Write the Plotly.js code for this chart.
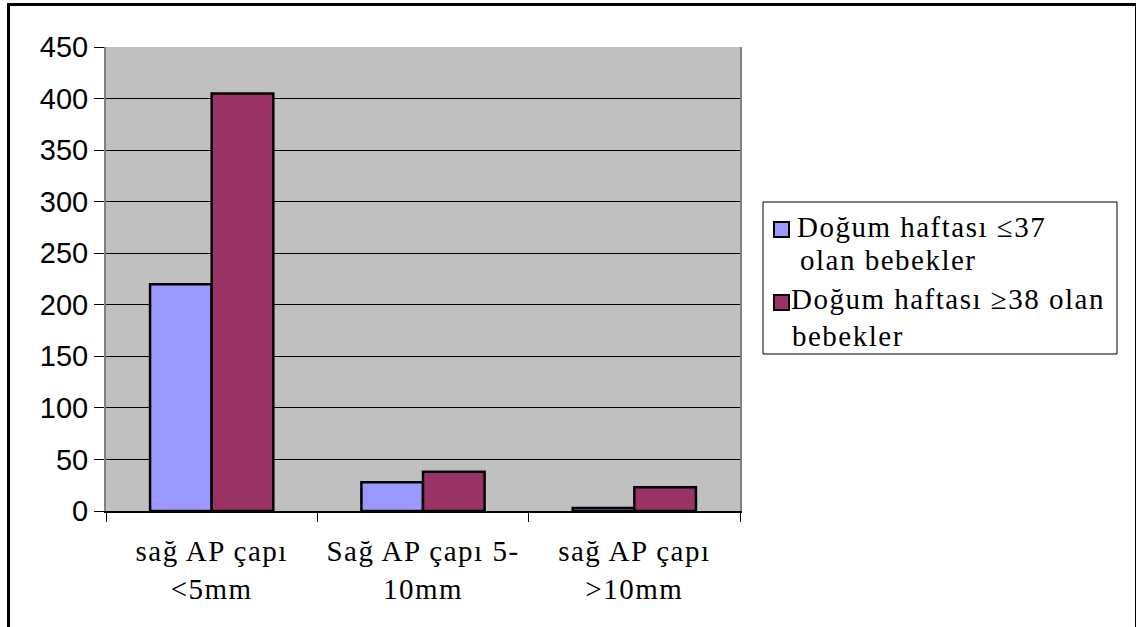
<!DOCTYPE html>
<html>
<head>
<meta charset="utf-8">
<script src="https://cdn.plot.ly/plotly-3.0.1.min.js"></script>
<style>
  html, body { margin: 0; padding: 0; background: #fff; }
  #wrap { position: relative; width: 1136px; height: 627px; overflow: hidden; }
  #chart { width: 1136px; height: 627px; }
  #chart .xtick text, #chart .annotation-text { letter-spacing: 1.5px; }
  #frame { position: absolute; left: 7px; top: 3px; width: 1125px; height: 700px;
           border-left: 3px solid #000; border-top: 3px solid #000; border-right: 2px solid #000;
           pointer-events: none; }
</style>
</head>
<body>
<div id="wrap">
  <div id="chart"></div>
  <div id="frame"></div>
</div>
<script>
// ---- data ----
var categories = ["sağ AP çapı <5mm", "Sağ AP çapı 5-10mm", "sağ AP çapı >10mm"];
var tickLabels = ["sağ AP çapı\n<5mm", "Sağ AP çapı 5-\n10mm", "sağ AP çapı\n>10mm"];
var seriesNames = ["Doğum haftası ≤37\nolan bebekler", "Doğum haftası ≥38 olan\nbebekler"];
var seriesColors = ["#9999FF", "#993366"];
var preterm = [220, 28, 3];
var term = [405, 38, 23];
var yTicks = [0, 50, 100, 150, 200, 250, 300, 350, 400, 450];

var SERIF = "'Times New Roman', 'Liberation Serif', serif";
var SANS = "Arial, 'Liberation Sans', sans-serif";

function fmt(s) {
  return s.replace(/&/g, "&amp;").replace(/</g, "&lt;").replace(/>/g, "&gt;").replace(/\n/g, "<br>");
}

// plot-area geometry (px) for placing the hand-built legend
var W = 1136, H = 627, ML = 106, MR = 396, MT = 47, MB = 116;
var PW = W - ML - MR, PH = H - MT - MB;
function px(x) { return (x - ML) / PW; }
function py(y) { return (H - MB - y) / PH; }

var traces = [
  { type: "bar", x: categories, y: preterm, name: seriesNames[0].replace("\n", " "), showlegend: false,
    marker: { color: seriesColors[0], line: { color: "#000", width: 2.5 } } },
  { type: "bar", x: categories, y: term, name: seriesNames[1].replace("\n", " "), showlegend: false,
    marker: { color: seriesColors[1], line: { color: "#000", width: 2.5 } } }
];

// legend: box, swatches and text lines
var shapes = [
  { type: "rect", xref: "paper", yref: "paper", x0: px(763), x1: px(1117), y0: py(354), y1: py(202),
    line: { color: "#000", width: 1 }, fillcolor: "#fff", layer: "below" },
  { type: "rect", xref: "paper", yref: "paper", x0: px(774), x1: px(789), y0: py(237), y1: py(222),
    line: { color: "#000", width: 2 }, fillcolor: seriesColors[0] },
  { type: "rect", xref: "paper", yref: "paper", x0: px(774), x1: px(789), y0: py(310), y1: py(295),
    line: { color: "#000", width: 2 }, fillcolor: seriesColors[1] }
];
var l1 = seriesNames[0].split("\n"), l2 = seriesNames[1].split("\n");
var legLines = [
  { t: l1[0], x: 796, base: 237 },
  { t: l1[1], x: 799, base: 270 },
  { t: l2[0], x: 790, base: 309 },
  { t: l2[1], x: 791, base: 346 }
];
var annotations = legLines.map(function (o) {
  return { xref: "paper", yref: "paper", x: px(o.x), y: py(o.base - 10), xanchor: "left", yanchor: "middle",
           align: "left", text: fmt(o.t), showarrow: false, borderpad: 0,
           font: { family: SERIF, size: 29, color: "#000" } };
});

var layout = {
  width: W, height: H,
  margin: { l: ML, r: MR, t: MT, b: MB, pad: 0 },
  paper_bgcolor: "#ffffff",
  plot_bgcolor: "#C0C0C0",
  font: { family: SERIF, size: 29, color: "#000" },
  barmode: "group",
  bargap: 0.417,
  bargroupgap: 0,
  showlegend: false,
  shapes: shapes,
  annotations: annotations,
  xaxis: {
    type: "category",
    tickmode: "array", tickvals: categories, ticktext: tickLabels.map(fmt),
    tickson: "boundaries", ticks: "outside", ticklen: 9, tickcolor: "#000", tickwidth: 1,
    showline: true, linecolor: "#000", linewidth: 1.5,
    showgrid: false, zeroline: false,
    ticklabelstandoff: 14,
    tickfont: { family: SERIF, size: 29, color: "#000" },
    fixedrange: true
  },
  yaxis: {
    range: [0, 450],
    tickmode: "array", tickvals: yTicks,
    ticks: "outside", ticklen: 10, tickcolor: "#000", tickwidth: 1,
    showline: true, linecolor: "#808080", linewidth: 2, mirror: true,
    showgrid: true, gridcolor: "#000", gridwidth: 1,
    zeroline: false,
    tickfont: { family: SANS, size: 29, color: "#000" },
    fixedrange: true
  }
};

Plotly.newPlot("chart", traces, layout, { displayModeBar: false, staticPlot: true });
</script>
</body>
</html>
